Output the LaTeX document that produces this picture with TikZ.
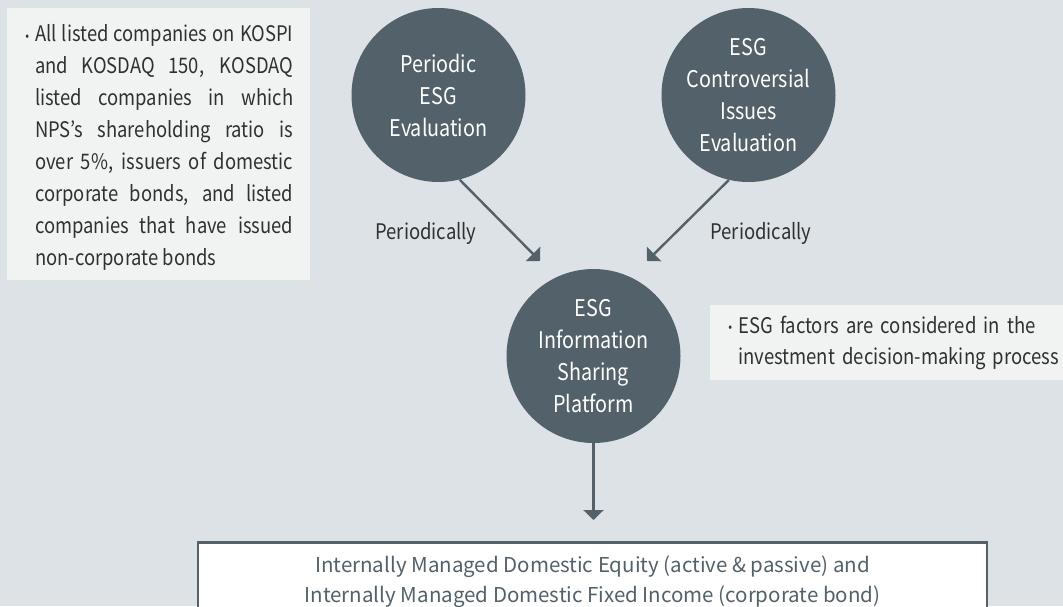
\documentclass[tikz,border=0pt]{standalone}
\usepackage{fontspec}
\setmainfont{Noto Sans CJK KR}
\newfontfamily\narrowface[FakeStretch=0.86]{Noto Sans CJK KR}
\usetikzlibrary{arrows.meta}
\definecolor{slate}{HTML}{52616A}
\definecolor{backdrop}{HTML}{DDE2E6}
\definecolor{notefill}{HTML}{F1F3F2}
\definecolor{ink}{HTML}{303030}
\tikzset{
	stage/.style  = {shape=circle, fill=slate, text=white,
		minimum size=174pt, inner sep=0pt,
		align=center, font=\narrowface\fontsize{23}{32}\selectfont},
	note/.style   = {shape=rectangle, fill=notefill, text=ink,
		anchor=north west, inner ysep=0pt,
		font=\narrowface\fontsize{21.4}{32}\selectfont},
	target/.style = {shape=rectangle, draw=slate, line width=2.5pt,
		fill=white, text=slate, anchor=north,
		minimum width=789pt, inner ysep=13pt, align=center,
		font=\fontsize{20.5}{30}\selectfont},
	tag/.style    = {text=ink, font=\narrowface\fontsize{21.5}{24}\selectfont},
	flow/.style   = {draw=slate, line width=2.4pt,
		-{Triangle[length=10pt, width=20pt]}}
}
\newcommand{\dotmark}{\llap{\raisebox{1.5pt}{\fontsize{13}{13}\selectfont\textbullet}\hspace{6pt}}}

\begin{document}
\begin{tikzpicture}[x=1pt, y=-1pt]
	\fill [backdrop] (0,0) rectangle (1063,606);
	\useasboundingbox (0,0) rectangle (1063,606);

	% evaluation stages and the shared platform
	\node [stage] at (438.5,95) (periodic) {Periodic\\ESG\\Evaluation};
	\node [stage] at (748.5,95) (controversy) {ESG\\Controversial\\Issues\\Evaluation};
	\node [stage] at (593.5,356) (platform) {ESG\\Information\\Sharing\\Platform};

	% side notes
	\node [note, inner xsep=17pt, minimum height=272pt] at (7,8) (scope)
		{\hspace{11pt}\raisebox{-3.5pt}[\height][\depth]{\parbox{258pt}{\hyphenpenalty=10000
		\noindent\dotmark All listed companies on KOSPI\linebreak
		and KOSDAQ 150, KOSDAQ\linebreak
		listed companies in which\linebreak
		NPS’s shareholding ratio is\linebreak
		over 5\%, issuers of domestic\linebreak
		corporate bonds, and listed\linebreak
		companies that have issued\linebreak
		non-corporate bonds}}};
	\node [note, text width=345pt, inner xsep=28pt, minimum height=75pt,
		align=left, font=\narrowface\fontsize{21.5}{31}\selectfont] at (710,305) (factors)
		{\dotmark ESG factors are considered in the\\investment decision-making process};

	% portfolios at the bottom
	\node [target] at (592.5,541) (portfolio)
		{Internally Managed Domestic Equity (active \& passive) and\\
		 Internally Managed Domestic Fixed Income (corporate bond)};

	% connectors
	\coordinate (inL) at (540,261);
	\coordinate (inR) at (647,261);
	\coordinate (inD) at (593.5,520);
	\draw [flow] (periodic.-76.6) -- (inL);
	\draw [flow] (controversy.-103.4) -- (inR);
	\draw [flow] (platform.south) -- (inD);

	\node [tag] at (426,233) (leftcycle) {Periodically};
	\node [tag] at (761,233) (rightcycle) {Periodically};
\end{tikzpicture}
\end{document}
